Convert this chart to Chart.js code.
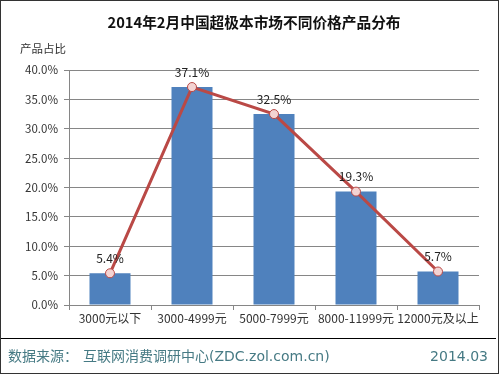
<!DOCTYPE html>
<html>
<head>
<meta charset="utf-8">
<script src="https://cdn.jsdelivr.net/npm/chart.js@4"></script>
<style>
  html, body { margin: 0; padding: 0; background: #fff; }
  #wrap { width: 500px; height: 375px; }
</style>
</head>
<body>
<div id="wrap"><canvas id="chart" width="500" height="375"></canvas></div>
<script>
// 数据
const categories = ["3000元以下", "3000-4999元", "5000-7999元", "8000-11999元", "12000元及以上"];
const shareValues = [5.4, 37.1, 32.5, 19.3, 5.7];
const yTicks = [0, 5, 10, 15, 20, 25, 30, 35, 40];

const FONT = '"Noto Sans CJK SC", "Noto Sans", sans-serif';
const FOOT_FONT = '"DejaVu Sans", "Noto Sans CJK SC", sans-serif';

// 标题、注释、页脚
const decorPlugin = {
  id: "decor",
  beforeDraw(chart) {
    const ctx = chart.ctx;
    ctx.save();
    ctx.fillStyle = "#fff";
    ctx.fillRect(0, 0, chart.width, chart.height);
    ctx.restore();
  },
  afterDraw(chart) {
    const ctx = chart.ctx;
    ctx.save();
    // 标题
    ctx.fillStyle = "#111";
    ctx.font = "bold 14.7px " + FONT;
    ctx.textAlign = "center";
    ctx.textBaseline = "middle";
    ctx.fillText("2014年2月中国超极本市场不同价格产品分布", 254, 22);
    // 纵轴名称
    ctx.font = "11.5px " + FONT;
    ctx.textAlign = "left";
    ctx.fillStyle = "#333";
    ctx.fillText("产品占比", 20, 49);
    // 数据标签
    const meta = chart.getDatasetMeta(1);
    ctx.textAlign = "center";
    ctx.font = "12px " + FONT;
    ctx.fillStyle = "#222";
    meta.data.forEach((pt, i) => {
      ctx.fillText(shareValues[i].toFixed(1) + "%", pt.x, pt.y - 15);
    });
    // 页脚
    ctx.strokeStyle = "#000";
    ctx.lineWidth = 1;
    ctx.beginPath();
    ctx.moveTo(0, 338.5);
    ctx.lineTo(496, 338.5);
    ctx.stroke();
    ctx.font = "14px " + FOOT_FONT;
    ctx.fillStyle = "#467a84";
    ctx.textAlign = "left";
    ctx.fillText("数据来源：", 8, 357);
    ctx.fillText("互联网消费调研中心(ZDC.zol.com.cn)", 83, 357);
    ctx.textAlign = "right";
    ctx.fillText("2014.03", 488, 357);
    // 外框
    ctx.strokeStyle = "#333";
    ctx.strokeRect(0.5, 0.5, 498, 373);
    ctx.restore();
  }
};

new Chart(document.getElementById("chart").getContext("2d"), {
  data: {
    labels: categories,
    datasets: [
      {
        type: "line",
        data: shareValues,
        borderColor: "#BA4946",
        borderWidth: 3,
        pointRadius: 4.5,
        pointBackgroundColor: "#F4D3D2",
        pointBorderColor: "#BA4946",
        pointBorderWidth: 1,
        tension: 0,
        order: 0
      },
      {
        type: "bar",
        data: shareValues,
        backgroundColor: "#4F81BD",
        barPercentage: 0.5,
        categoryPercentage: 1,
        order: 1
      }
    ]
  },
  options: {
    responsive: false,
    animation: false,
    layout: { padding: { left: 0, top: 70, right: 21, bottom: 50 } },
    plugins: {
      legend: { display: false },
      tooltip: { enabled: false }
    },
    scales: {
      x: {
        offset: true,
        afterFit(scale) { scale.height = 20; },
        grid: { drawOnChartArea: false, drawTicks: true, tickLength: 5, offset: true, color: "#868686" },
        border: { color: "#868686" },
        ticks: { color: "#333", font: { family: FONT, size: 12 }, padding: 1, maxRotation: 0, autoSkip: false }
      },
      y: {
        min: 0,
        max: 40,
        afterFit(scale) { scale.width = 69; },
        afterBuildTicks(scale) { scale.ticks = yTicks.map(v => ({ value: v })); },
        grid: { color: "#868686", tickLength: 5 },
        border: { color: "#868686" },
        ticks: {
          color: "#333",
          font: { family: FONT, size: 11.5 },
          padding: 6,
          callback: v => v.toFixed(1) + "%"
        }
      }
    }
  },
  plugins: [decorPlugin]
});
</script>
</body>
</html>
